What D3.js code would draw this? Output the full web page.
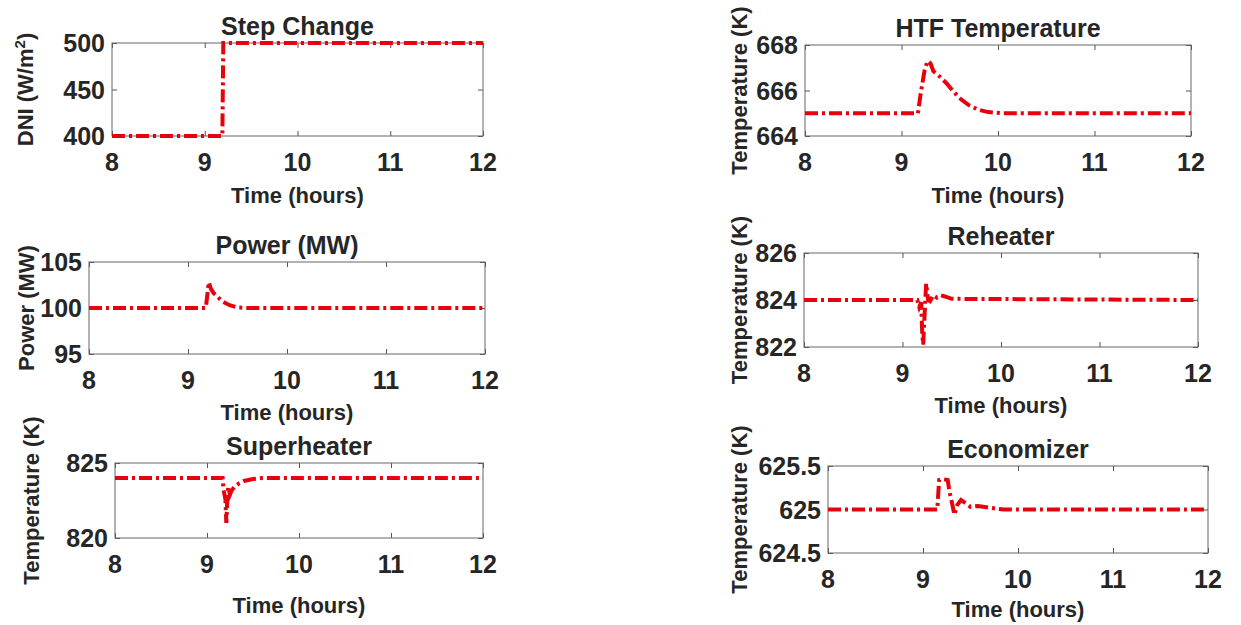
<!DOCTYPE html>
<html>
<head>
<meta charset="utf-8">
<script src="https://cdn.jsdelivr.net/npm/d3@7"></script>
<style>
  body { margin: 0; background: #fff; }
  text { font-family: "Liberation Sans", Arial, sans-serif; font-weight: bold; fill: #262626; }
</style>
</head>
<body>
<svg id="viz"></svg>
<script>
let width = 1241;
let height = 625;
let lineColor = "#e8000c";

let timeTicks = [8, 9, 10, 11, 12];

// values, [time (h), value]
let dniData = [[8, 400], [9.19, 400], [9.2, 500], [12, 500]];

let powerData = [[8, 100], [9.18, 100], [9.21, 102.8], [9.23, 102.1], [9.26, 101.6], [9.3, 101.2],
    [9.35, 100.7], [9.42, 100.3], [9.5, 100.05], [9.6, 100], [12, 100]];

let superheaterData = [[8, 824], [9.17, 824], [9.18, 823.2], [9.2, 822.6], [9.21, 821], [9.22, 822.5],
    [9.23, 823.4], [9.25, 822.9], [9.27, 823.2], [9.3, 823.4], [9.35, 823.65], [9.4, 823.8],
    [9.5, 823.93], [9.6, 824], [12, 824]];

let htfData = [[8, 665], [9.17, 665], [9.2, 665.9], [9.24, 666.9], [9.27, 667.3], [9.3, 667.2],
    [9.33, 666.85], [9.4, 666.6], [9.47, 666.3], [9.55, 665.9], [9.62, 665.6], [9.7, 665.35],
    [9.8, 665.15], [9.9, 665.05], [10.05, 665], [12, 665]];

let reheaterData = [[8, 824], [9.15, 824], [9.17, 823.7], [9.19, 823.9], [9.2, 822.6], [9.21, 822.1],
    [9.22, 823], [9.24, 824.7], [9.26, 824], [9.28, 823.95], [9.31, 824.2], [9.35, 824.1],
    [9.39, 824.2], [9.43, 824.15], [9.5, 824.05], [12, 824]];

let economizerData = [[8, 625], [9.15, 625], [9.17, 625.34], [9.2, 625.35], [9.26, 625.34], [9.28, 625.2],
    [9.31, 625.05], [9.33, 624.94], [9.36, 625.05], [9.4, 625.11], [9.45, 625.07], [9.5, 625.03],
    [9.58, 625.04], [9.7, 625.02], [9.85, 625], [12, 625]];

let titles = ["Step Change", "Power (MW)", "Superheater", "HTF Temperature", "Reheater", "Economizer"];
let yLabels = ["DNI (W/m", "Power (MW)", "Temperature (K)", "Temperature (K)", "Temperature (K)", "Temperature (K)"];
let yDomains = [[400, 500], [95, 105], [820, 825], [664, 668], [822, 826], [624.5, 625.5]];
let yTicks = [[400, 450, 500], [95, 100, 105], [820, 825], [664, 666, 668], [822, 824, 826], [624.5, 625, 625.5]];
let series = [dniData, powerData, superheaterData, htfData, reheaterData, economizerData];

// plot box of each panel: left, right, top, bottom, y label x, x label gap
let boxes = [
    [112, 483, 43, 136, 25, 67],
    [89, 485, 262, 354, 26, 66],
    [115, 483, 463, 538, 31, 75],
    [805, 1191, 45, 136, 739, 67],
    [804, 1198, 253, 347, 739, 66],
    [828, 1208, 466, 553, 739, 64]
];

let svg = d3.select("#viz")
    .attr("width", width)
    .attr("height", height);

function drawPanel(i) {
    let [left, right, top, bottom, labelX, xLabelGap] = boxes[i];
    let x = d3.scaleLinear().domain([8, 12]).range([left, right]);
    let y = d3.scaleLinear().domain(yDomains[i]).range([bottom, top]);
    let g = svg.append("g");

    // ticks pointing inward on all four sides
    let axisStyle = a => a.call(s => s.select(".domain").remove())
        .call(s => s.selectAll(".tick line").attr("stroke", "#555").attr("stroke-width", 1))
        .call(s => s.selectAll("text").remove());
    g.append("g").attr("transform", `translate(0,${bottom})`)
        .call(d3.axisBottom(x).tickValues(timeTicks).tickSize(-5)).call(axisStyle);
    g.append("g").attr("transform", `translate(0,${top})`)
        .call(d3.axisTop(x).tickValues(timeTicks).tickSize(-5)).call(axisStyle);
    g.append("g").attr("transform", `translate(${left},0)`)
        .call(d3.axisLeft(y).tickValues(yTicks[i]).tickSize(-5)).call(axisStyle);
    g.append("g").attr("transform", `translate(${right},0)`)
        .call(d3.axisRight(y).tickValues(yTicks[i]).tickSize(-5)).call(axisStyle);

    g.append("rect")
        .attr("x", left).attr("y", top)
        .attr("width", right - left).attr("height", bottom - top)
        .attr("fill", "none").attr("stroke", "#666").attr("stroke-width", 1);

    g.selectAll(".xt")
        .data(timeTicks)
        .enter()
        .append("text")
        .attr("x", d => x(d))
        .attr("y", bottom + 35)
        .attr("text-anchor", "middle")
        .style("font-size", "25px")
        .text(d => d);

    g.selectAll(".yt")
        .data(yTicks[i])
        .enter()
        .append("text")
        .attr("x", left - 7)
        .attr("y", d => y(d) + 9)
        .attr("text-anchor", "end")
        .style("font-size", "25px")
        .text(d => d);

    g.append("text")
        .attr("x", (left + right) / 2)
        .attr("y", top - 8)
        .attr("text-anchor", "middle")
        .style("font-size", "25px")
        .text(titles[i]);

    g.append("text")
        .attr("x", (left + right) / 2)
        .attr("y", bottom + xLabelGap)
        .attr("text-anchor", "middle")
        .style("font-size", "22px")
        .text("Time (hours)");

    let yl = g.append("text")
        .attr("transform", `translate(${labelX},${(top + bottom) / 2}) rotate(-90)`)
        .attr("dy", "0.35em")
        .attr("text-anchor", "middle")
        .style("font-size", "22px")
        .text(yLabels[i]);
    if (i == 0) {
        yl.append("tspan").attr("baseline-shift", "super").style("font-size", "15px").text("2");
        yl.append("tspan").text(")");
    }

    let line = d3.line()
        .x(d => x(d[0]))
        .y(d => y(d[1]));

    g.append("path")
        .datum(series[i])
        .attr("d", line)
        .attr("fill", "none")
        .attr("stroke", lineColor)
        .attr("stroke-width", 4)
        .attr("stroke-dasharray", "13,4,3,4");
}

for (let i = 0; i < series.length; i++) drawPanel(i);
</script>
</body>
</html>
